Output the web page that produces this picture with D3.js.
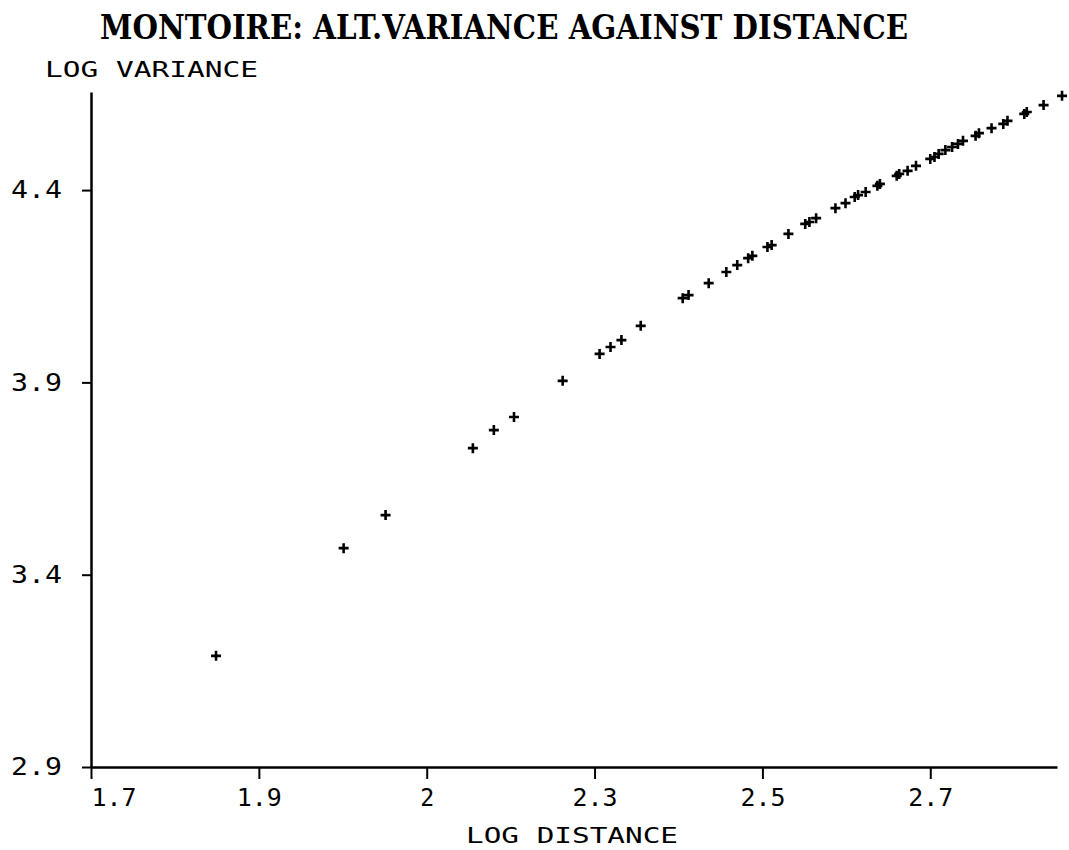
<!DOCTYPE html>
<html>
<head>
<meta charset="utf-8">
<script src="https://cdn.jsdelivr.net/npm/d3@7"></script>
<style>
  html, body { margin: 0; padding: 0; background: #fff; }
  svg { display: block; }
</style>
</head>
<body>
<svg id="chart" width="1069" height="850"></svg>
<script>
// ---- data ----
const title = "MONTOIRE: ALT.VARIANCE AGAINST DISTANCE";
const xLabel = "LOG DISTANCE";
const yLabel = "LOG VARIANCE";
const xTickValues = [1.7, 1.9, 2.1, 2.3, 2.5, 2.7];
const xTickLabels = ["1.7", "1.9", "2", "2.3", "2.5", "2.7"];
const yTickValues = [2.9, 3.4, 3.9, 4.4];
const yTickLabels = ["2.9", "3.4", "3.9", "4.4"];
const logDistance = [
  1.849, 2.001, 2.051, 2.155, 2.180, 2.204, 2.262, 2.306, 2.319, 2.332,
  2.355, 2.405, 2.412, 2.436, 2.457, 2.470, 2.483, 2.488, 2.506, 2.511,
  2.531, 2.551, 2.556, 2.564, 2.587, 2.599, 2.610, 2.614, 2.623, 2.637,
  2.640, 2.660, 2.663, 2.673, 2.683, 2.700, 2.705, 2.710, 2.718, 2.726,
  2.733, 2.739, 2.754, 2.758, 2.773, 2.787, 2.792, 2.812, 2.815, 2.835,
  2.857
];
const logVariance = [
  3.189, 3.469, 3.555, 3.729, 3.776, 3.810, 3.904, 3.974, 3.992, 4.010,
  4.047, 4.119, 4.127, 4.158, 4.187, 4.205, 4.223, 4.229, 4.252, 4.257,
  4.286, 4.312, 4.317, 4.327, 4.353, 4.366, 4.382, 4.387, 4.395, 4.411,
  4.416, 4.437, 4.442, 4.450, 4.463, 4.481, 4.486, 4.494, 4.504, 4.512,
  4.520, 4.528, 4.541, 4.548, 4.561, 4.572, 4.580, 4.598, 4.603, 4.621,
  4.645
];

(function () {
// ---- layout ----
const svg = d3.select("#chart");
const mLeft = 91, mRight = 1057, mTop = 92, mBottom = 767;

const x = d3.scaleLinear().domain([1.7, 2.851]).range([mLeft, mRight]);
const y = d3.scaleLinear().domain([2.9, 4.655]).range([mBottom, mTop]);

const plotFont = "'DejaVu Sans Mono', 'Liberation Mono', monospace";

// title
svg.append("text")
  .attr("x", 100).attr("y", 39)
  .attr("textLength", 808).attr("lengthAdjust", "spacingAndGlyphs")
  .style("font-family", "'DejaVu Serif', 'Liberation Serif', serif")
  .style("font-weight", "bold")
  .style("font-size", "34px")
  .attr("fill", "#000")
  .text(title);

// y-axis label
svg.append("text")
  .attr("x", 45).attr("y", 77)
  .attr("textLength", 213).attr("lengthAdjust", "spacingAndGlyphs")
  .style("font-family", plotFont)
  .style("font-size", "22px")
  .attr("fill", "#000")
  .text(yLabel);

// x-axis label
svg.append("text")
  .attr("x", 466).attr("y", 843)
  .attr("textLength", 212).attr("lengthAdjust", "spacingAndGlyphs")
  .style("font-family", plotFont)
  .style("font-size", "22px")
  .attr("fill", "#000")
  .text(xLabel);

// x axis
const xAxis = d3.axisBottom(x)
  .tickValues(xTickValues)
  .tickFormat((d, i) => xTickLabels[i])
  .tickSizeInner(12).tickSizeOuter(0).tickPadding(10);
const gx = svg.append("g").attr("transform", `translate(0,${mBottom})`).call(xAxis);
gx.select(".domain").attr("stroke", "#000").attr("stroke-width", 2.5);
gx.selectAll(".tick line").attr("stroke", "#000").attr("stroke-width", 2);
gx.selectAll(".tick text")
  .style("font-family", plotFont).style("font-size", "24px")
  .attr("fill", "#000")
  .attr("textLength", (d, i) => xTickLabels[i].length > 1 ? 45 : 14)
  .attr("lengthAdjust", "spacingAndGlyphs");
gx.selectAll(".tick text").filter((d, i) => i === 0).attr("text-anchor", "start");

// y axis
const yAxis = d3.axisLeft(y)
  .tickValues(yTickValues)
  .tickFormat((d, i) => yTickLabels[i])
  .tickSizeInner(9).tickSizeOuter(0).tickPadding(20);
const gy = svg.append("g").attr("transform", `translate(${mLeft},0)`).call(yAxis);
gy.select(".domain").attr("stroke", "#000").attr("stroke-width", 2.5);
gy.selectAll(".tick line").attr("stroke", "#000").attr("stroke-width", 2);
gy.selectAll(".tick text")
  .style("font-family", plotFont).style("font-size", "24px")
  .attr("fill", "#000")
  .attr("textLength", 51).attr("lengthAdjust", "spacingAndGlyphs");

// markers (plus signs)
const pts = logDistance.map((d, i) => ({ x: d, y: logVariance[i] }));
const s = 5;
svg.append("g").selectAll("path")
  .data(pts)
  .join("path")
  .attr("transform", d => `translate(${x(d.x)},${y(d.y)})`)
  .attr("d", `M${-s},0H${s}M0,${-s}V${s}`)
  .attr("stroke", "#000")
  .attr("stroke-width", 2.6)
  .attr("fill", "none");
})();
</script>
</body>
</html>
